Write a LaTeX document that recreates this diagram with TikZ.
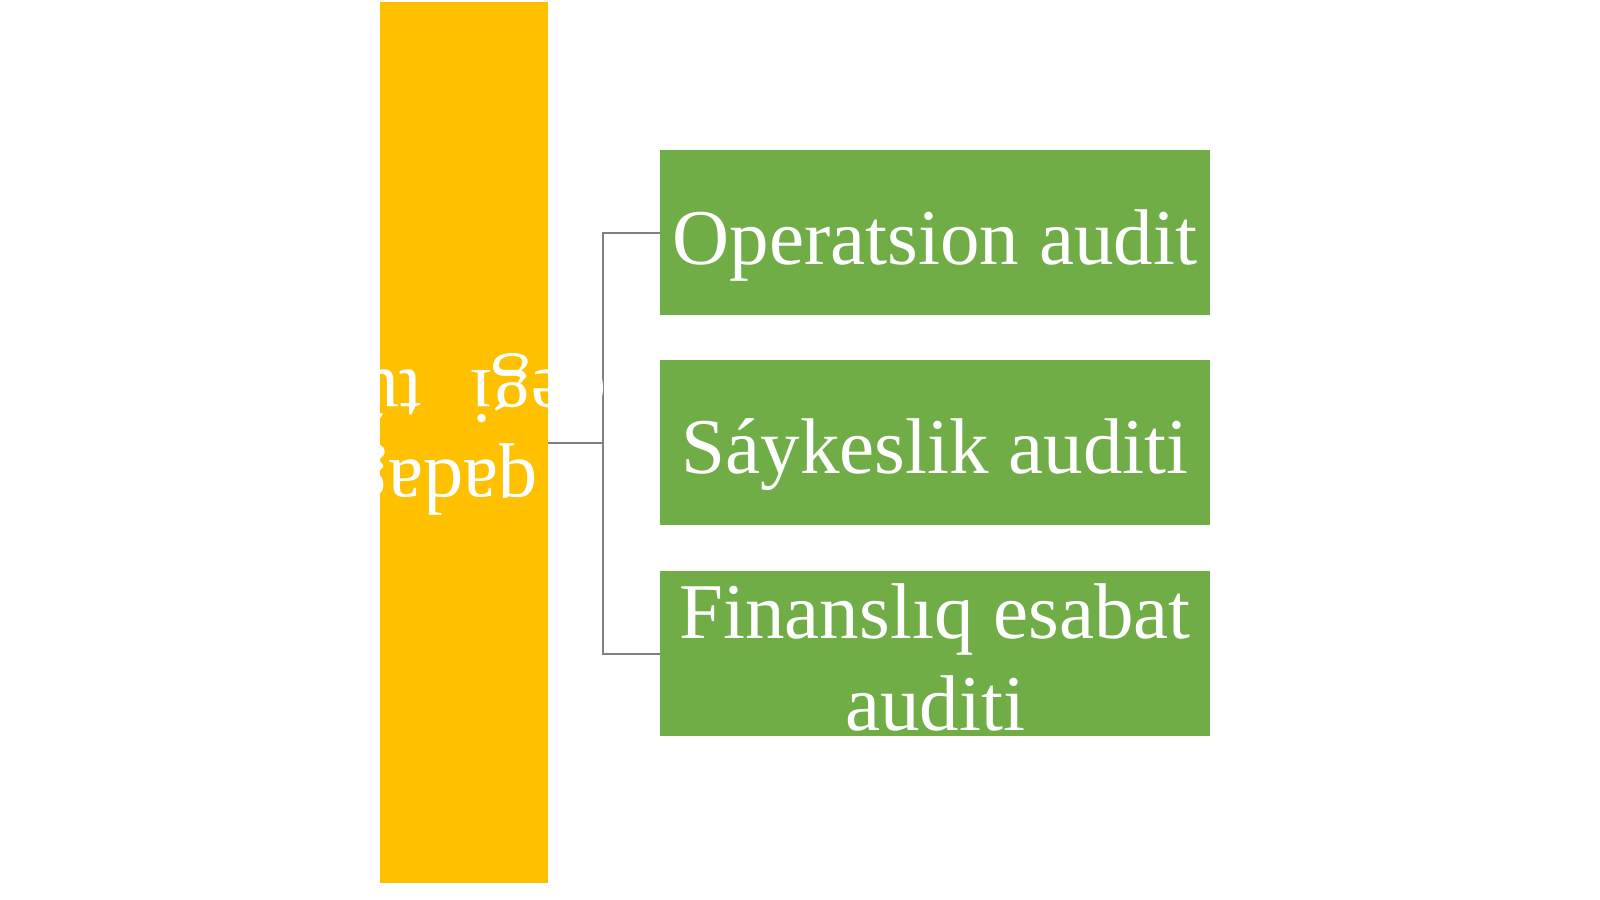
\documentclass[tikz,border=0pt]{standalone}
\usepackage{fontspec}
\setmainfont{Liberation Serif}
\definecolor{baryellow}{HTML}{FFC000}
\definecolor{boxgreen}{HTML}{70AD47}
\definecolor{linegray}{HTML}{808080}
\pgfdeclarelayer{paper}
\pgfdeclarelayer{lines}
\pgfsetlayers{paper,lines,main}
\begin{document}
\begin{tikzpicture}[x=0.5pt,y=-0.5pt,
  bar/.style={fill=baryellow, draw=none, minimum width=84pt, minimum height=440.5pt, inner sep=0pt},
  gbox/.style={fill=boxgreen, draw=none, minimum width=275pt, minimum height=82.5pt, inner sep=0pt},
  boxtext/.style={text=white, font=\fontsize{39.5}{46}\selectfont, inner sep=0pt, align=center},
  flipped/.style={text=white, font=\fontsize{39.5}{46}\selectfont, inner sep=0pt, rotate=180},
  conn/.style={draw=linegray, line width=1pt}]
\useasboundingbox (0,0) rectangle (1600,899);
\begin{pgfonlayer}{paper}
\fill[white] (0,0) rectangle (1600,899);
\end{pgfonlayer}
% root bar
\node[bar] (root) at (464,442.5) {};
% upside-down (180 degree turned) text fragments of the bar
\node[flipped, anchor=base west] (t1) at (538,460) {qadaǵa};
\node[flipped, anchor=base west] (t2a) at (422,370) {túr};
\node[flipped, anchor=base east] (t2b) at (470,370) {degi};
% child boxes
\node[gbox] (b1) at (935,232.5) {};
\node[gbox] (b2) at (935,442.5) {};
\node[gbox] (b3) at (935,653.5) {};
\node[boxtext, anchor=base] (l1) at (935,264) {Operatsion audit};
\node[boxtext, anchor=base] (l2) at (935,473) {Sáykeslik auditi};
\node[boxtext, anchor=base] (l3) at (935,730) {Finanslıq esabat\\auditi};
% connectors
\coordinate (j) at (603,442.5);
\begin{pgfonlayer}{lines}
\draw[conn] (root.east) -- (j);
\draw[conn] (b1.west) -| (j) |- (b3.west);
\end{pgfonlayer}
\end{tikzpicture}
\end{document}
